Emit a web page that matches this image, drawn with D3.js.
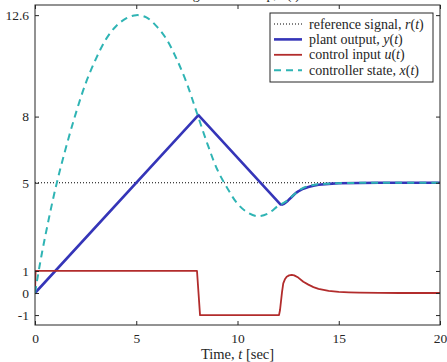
<!DOCTYPE html>
<html>
<head>
<meta charset="utf-8">
<script src="https://cdn.jsdelivr.net/npm/d3@7"></script>
<style>
  html, body { margin: 0; padding: 0; background: #fff; }
  svg { display: block; }
  text { font-family: "Liberation Serif", "DejaVu Serif", serif; fill: #262626; }
</style>
</head>
<body>
<svg id="chart" width="447" height="362"></svg>
<script>
// Time samples and signal values
const refT = [0, 20];
const refVals = [5, 5];

const outT    = [0, 8.07, 12.12, 12.2, 12.3, 12.4, 12.5, 12.625, 12.75, 12.875, 13, 13.25, 13.5, 13.75, 14, 14.5, 15, 16, 17, 20];
const outVals = [0, 8.07, 4.02, 4.01, 4.05, 4.12, 4.2, 4.31, 4.42, 4.53, 4.61, 4.73, 4.81, 4.87, 4.91, 4.95, 4.975, 4.99, 5, 5];

const ctrlT    = [0, 0.03, 8.0, 8.15, 12.05, 12.1, 12.2, 12.26, 12.35, 12.43, 12.55, 12.68, 12.8, 13, 13.25, 13.5, 13.75, 14, 14.5, 15, 15.5, 16, 17, 18, 20];
const ctrlVals = [0, 1, 1, -1, -1, -0.77, 0.05, 0.44, 0.64, 0.74, 0.8, 0.82, 0.8, 0.7, 0.51, 0.38, 0.27, 0.19, 0.1, 0.05, 0.03, 0.015, 0.005, 0, 0];

const stateT    = [0, 0.25, 0.5, 1, 1.5, 2, 2.5, 3, 3.5, 4, 4.5, 5, 5.5, 6, 6.5, 7, 7.5, 8, 8.5, 9, 9.5, 10, 10.5, 11, 11.5, 12, 12.25, 12.5, 12.75, 13, 13.25, 13.5, 13.75, 14, 14.5, 15, 16, 17, 20];
const stateVals = [0, 1.35, 2.55, 4.7, 6.5, 8.1, 9.5, 10.6, 11.5, 12.1, 12.45, 12.6, 12.5, 12.1, 11.5, 10.6, 9.5, 8.15, 6.8, 5.6, 4.75, 4.05, 3.65, 3.48, 3.6, 3.95, 4.08, 4.22, 4.43, 4.62, 4.77, 4.85, 4.9, 4.93, 4.96, 4.98, 4.995, 5, 5];

const xTicks = [0, 5, 10, 15, 20];
const yTicks = [-1, 0, 1, 5, 8, 12.6];

const legendLabels = [
  ["reference signal, ", "r"],
  ["plant output, ", "y"],
  ["control input ", "u"],
  ["controller state, ", "x"]
];

const colors = { ref: "#000000", out: "#3535b8", ctrl: "#b22c2c", state: "#2fb4b4" };

const svg = d3.select("#chart");
const plotLeft = 35, plotRight = 440, plotTop = 5, plotBottom = 325;

const x = d3.scaleLinear().domain([0, 20]).range([plotLeft, plotRight]);
const y = d3.scaleLinear().domain([-1.45, 13.06]).range([plotBottom, plotTop]);

// Title (sits above the frame, mostly outside the canvas)
const title = svg.append("text")
  .attr("x", 300).attr("y", -1)
  .attr("text-anchor", "end")
  .style("font-size", "14px");
title.append("tspan").text("Tracking with windup, ");
title.append("tspan").style("font-style", "italic").text("x");
title.append("tspan").text("(");
title.append("tspan").style("font-style", "italic").text("t");
title.append("tspan").text(")");

svg.append("defs").append("clipPath").attr("id", "plotClip")
  .append("rect").attr("x", plotLeft).attr("y", plotTop)
  .attr("width", plotRight - plotLeft).attr("height", plotBottom - plotTop);

const plot = svg.append("g").attr("clip-path", "url(#plotClip)");

function series(ts, vs) { return ts.map((t, i) => [t, vs[i]]); }
const line = d3.line().x(d => x(d[0])).y(d => y(d[1]));

plot.append("path").datum(series(refT, refVals))
  .attr("d", line).attr("fill", "none")
  .attr("stroke", colors.ref).attr("stroke-width", 1).attr("stroke-dasharray", "1,2");

plot.append("path").datum(series(outT, outVals))
  .attr("d", line).attr("fill", "none")
  .attr("stroke", colors.out).attr("stroke-width", 2.6).attr("stroke-linejoin", "round");

plot.append("path").datum(series(ctrlT, ctrlVals))
  .attr("d", line).attr("fill", "none")
  .attr("stroke", colors.ctrl).attr("stroke-width", 1.8).attr("stroke-linejoin", "round");

plot.append("path").datum(series(stateT, stateVals))
  .attr("d", d3.line().x(d => x(d[0])).y(d => y(d[1])).curve(d3.curveCatmullRom))
  .attr("fill", "none")
  .attr("stroke", colors.state).attr("stroke-width", 2).attr("stroke-dasharray", "7,5");

// Frame
svg.append("rect").attr("x", plotLeft).attr("y", plotTop)
  .attr("width", plotRight - plotLeft).attr("height", plotBottom - plotTop)
  .attr("fill", "none").attr("stroke", "#262626").attr("stroke-width", 1);

// Axes with inward ticks on all four sides
const tickLen = 4;
svg.append("g").attr("transform", `translate(0,${plotBottom})`)
  .call(d3.axisBottom(x).tickValues(xTicks).tickSizeInner(-tickLen).tickSizeOuter(0).tickPadding(8).tickFormat(d3.format("d")))
  .call(g => g.select(".domain").remove())
  .call(g => g.selectAll("text").style("font-size", "13.5px").attr("fill", "#262626").style("font-family", "Liberation Serif, serif"))
  .call(g => g.selectAll("line").attr("stroke", "#262626"));

svg.append("g").attr("transform", `translate(0,${plotTop})`)
  .call(d3.axisTop(x).tickValues(xTicks).tickSizeInner(-tickLen).tickSizeOuter(0).tickFormat(""))
  .call(g => g.select(".domain").remove())
  .call(g => g.selectAll("line").attr("stroke", "#262626"));

svg.append("g").attr("transform", `translate(${plotLeft},0)`)
  .call(d3.axisLeft(y).tickValues(yTicks).tickSizeInner(-tickLen).tickSizeOuter(0).tickPadding(6).tickFormat(d => String(d)))
  .call(g => g.select(".domain").remove())
  .call(g => g.selectAll("text").style("font-size", "13.5px").attr("fill", "#262626").style("font-family", "Liberation Serif, serif"))
  .call(g => g.selectAll("line").attr("stroke", "#262626"));

svg.append("g").attr("transform", `translate(${plotRight},0)`)
  .call(d3.axisRight(y).tickValues(yTicks).tickSizeInner(-tickLen).tickSizeOuter(0).tickFormat(""))
  .call(g => g.select(".domain").remove())
  .call(g => g.selectAll("line").attr("stroke", "#262626"));

// x-axis label
const xl = svg.append("text").attr("x", (plotLeft + plotRight) / 2).attr("y", 358.5)
  .attr("text-anchor", "middle").style("font-size", "14.5px");
xl.append("tspan").text("Time, ");
xl.append("tspan").style("font-style", "italic").text("t");
xl.append("tspan").text(" [sec]");

// Legend
const lg = svg.append("g");
lg.append("rect").attr("x", 270).attr("y", 13).attr("width", 163).attr("height", 69)
  .attr("fill", "#fff").attr("stroke", "#262626").attr("stroke-width", 1);
const legendStyles = [
  { c: colors.ref, w: 1, dash: "1,2" },
  { c: colors.out, w: 2.6, dash: null },
  { c: colors.ctrl, w: 1.8, dash: null },
  { c: colors.state, w: 2, dash: "7,5" }
];
legendLabels.forEach((lab, i) => {
  const cy = 24 + i * 15.4;
  const st = legendStyles[i];
  lg.append("line").attr("x1", 274).attr("x2", 302).attr("y1", cy).attr("y2", cy)
    .attr("stroke", st.c).attr("stroke-width", st.w)
    .attr("stroke-dasharray", st.dash);
  const t = lg.append("text").attr("x", 309).attr("y", cy + 4.5).style("font-size", "14px");
  t.append("tspan").text(lab[0]);
  t.append("tspan").style("font-style", "italic").text(lab[1]);
  t.append("tspan").text("(");
  t.append("tspan").style("font-style", "italic").text("t");
  t.append("tspan").text(")");
});
</script>
</body>
</html>
